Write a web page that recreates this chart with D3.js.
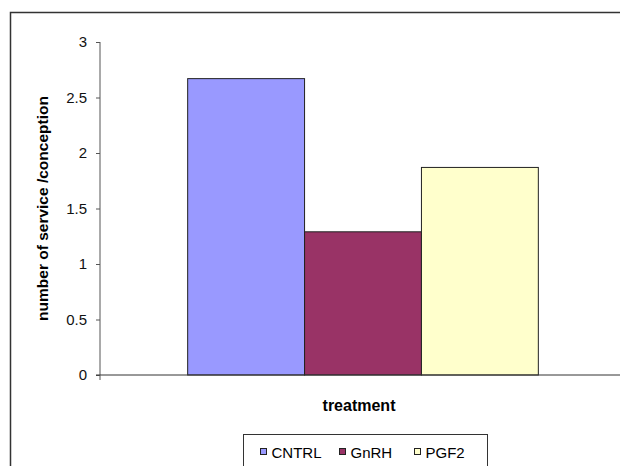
<!DOCTYPE html>
<html>
<head>
<meta charset="utf-8">
<script src="https://cdn.jsdelivr.net/npm/d3@7"></script>
<style>
  html, body { margin: 0; padding: 0; background: #fff; }
  svg { display: block; font-family: "Liberation Sans", Arial, sans-serif; }
</style>
</head>
<body>
<div id="chart"></div>
<script>
/* Data */
var categories = ['treatment'];
var series = ['CNTRL', 'GnRH', 'PGF2'];
var values = [2.67, 1.29, 1.87];
var colors = ['#9999FF', '#993366', '#FFFFCC'];
var yTicks = [0, 0.5, 1, 1.5, 2, 2.5, 3];

var width = 620, height = 466;
var m = { top: 42, right: -6, bottom: 91, left: 100 };
var innerW = width - m.left - m.right;
var innerH = height - m.top - m.bottom;

var svg = d3.select('#chart').append('svg')
  .attr('width', width)
  .attr('height', height);

/* Outer chart frame (extends past right/bottom edge) */
svg.append('rect')
  .attr('x', 10.5).attr('y', 12.5)
  .attr('width', 640).attr('height', 480)
  .attr('fill', 'none')
  .attr('stroke', '#333')
  .attr('stroke-width', 1.5);

var g = svg.append('g')
  .attr('transform', 'translate(' + m.left + ',' + m.top + ')');

/* Scales */
var x0 = d3.scaleBand().domain(categories).range([0, innerW])
  .paddingInner(0.2).paddingOuter(0.2);
var x1 = d3.scaleBand().domain(series).range([0, x0.bandwidth()]);
var y = d3.scaleLinear().domain([0, 3]).range([innerH, 0]);

/* Bars */
g.selectAll('.bar')
  .data(series.map(function (s, i) { return { key: s, value: values[i], color: colors[i] }; }))
  .join('rect')
  .attr('class', 'bar')
  .attr('x', function (d) { return x0(categories[0]) + x1(d.key); })
  .attr('y', function (d) { return y(d.value); })
  .attr('width', x1.bandwidth())
  .attr('height', function (d) { return innerH - y(d.value); })
  .attr('fill', function (d) { return d.color; })
  .attr('stroke', '#222')
  .attr('stroke-width', 1);

/* Y axis */
var yAxis = g.append('g')
  .call(d3.axisLeft(y).tickValues(yTicks).tickSize(4).tickPadding(9)
    .tickFormat(function (d) { return String(d); }));
yAxis.selectAll('text')
  .attr('fill', '#111')
  .attr('font-size', '15px');
yAxis.select('.domain').attr('stroke', '#555').attr('d', 'M0,0V' + innerH);
yAxis.selectAll('.tick line').attr('stroke', '#555');

/* X axis */
var xAxis = g.append('g')
  .attr('transform', 'translate(0,' + innerH + ')')
  .call(d3.axisBottom(x0).tickSize(0).tickFormat(''));
xAxis.select('.domain').attr('stroke', '#333').attr('d', 'M-4,0H' + innerW);
g.append('line')
  .attr('x1', 0).attr('x2', 0)
  .attr('y1', innerH).attr('y2', innerH + 5)
  .attr('stroke', '#555');

/* Axis titles */
g.append('text')
  .attr('x', x0(categories[0]) + x0.bandwidth() / 2 - 4)
  .attr('y', innerH + 36)
  .attr('text-anchor', 'middle')
  .attr('font-size', '16px')
  .attr('font-weight', 'bold')
  .attr('fill', '#000')
  .text('treatment');

svg.append('text')
  .attr('transform', 'translate(48,' + (m.top + innerH / 2) + ') rotate(-90)')
  .attr('text-anchor', 'middle')
  .attr('font-size', '15.5px')
  .attr('font-weight', 'bold')
  .attr('fill', '#000')
  .text('number of service /conception');

/* Legend */
var legend = svg.append('g').attr('transform', 'translate(243.5,434.5)');
legend.append('rect')
  .attr('width', 244).attr('height', 40)
  .attr('fill', '#fff')
  .attr('stroke', '#333')
  .attr('stroke-width', 1);

var legendX = [17, 96, 171];
var items = legend.selectAll('.leg')
  .data(series)
  .join('g')
  .attr('class', 'leg')
  .attr('transform', function (d, i) { return 'translate(' + legendX[i] + ',0)'; });
items.append('rect')
  .attr('x', 0).attr('y', 14)
  .attr('width', 6).attr('height', 6)
  .attr('fill', function (d, i) { return colors[i]; })
  .attr('stroke', '#222');
items.append('text')
  .attr('x', 11).attr('y', 23)
  .attr('font-size', '15px')
  .attr('fill', '#000')
  .text(function (d) { return d; });
</script>
</body>
</html>
